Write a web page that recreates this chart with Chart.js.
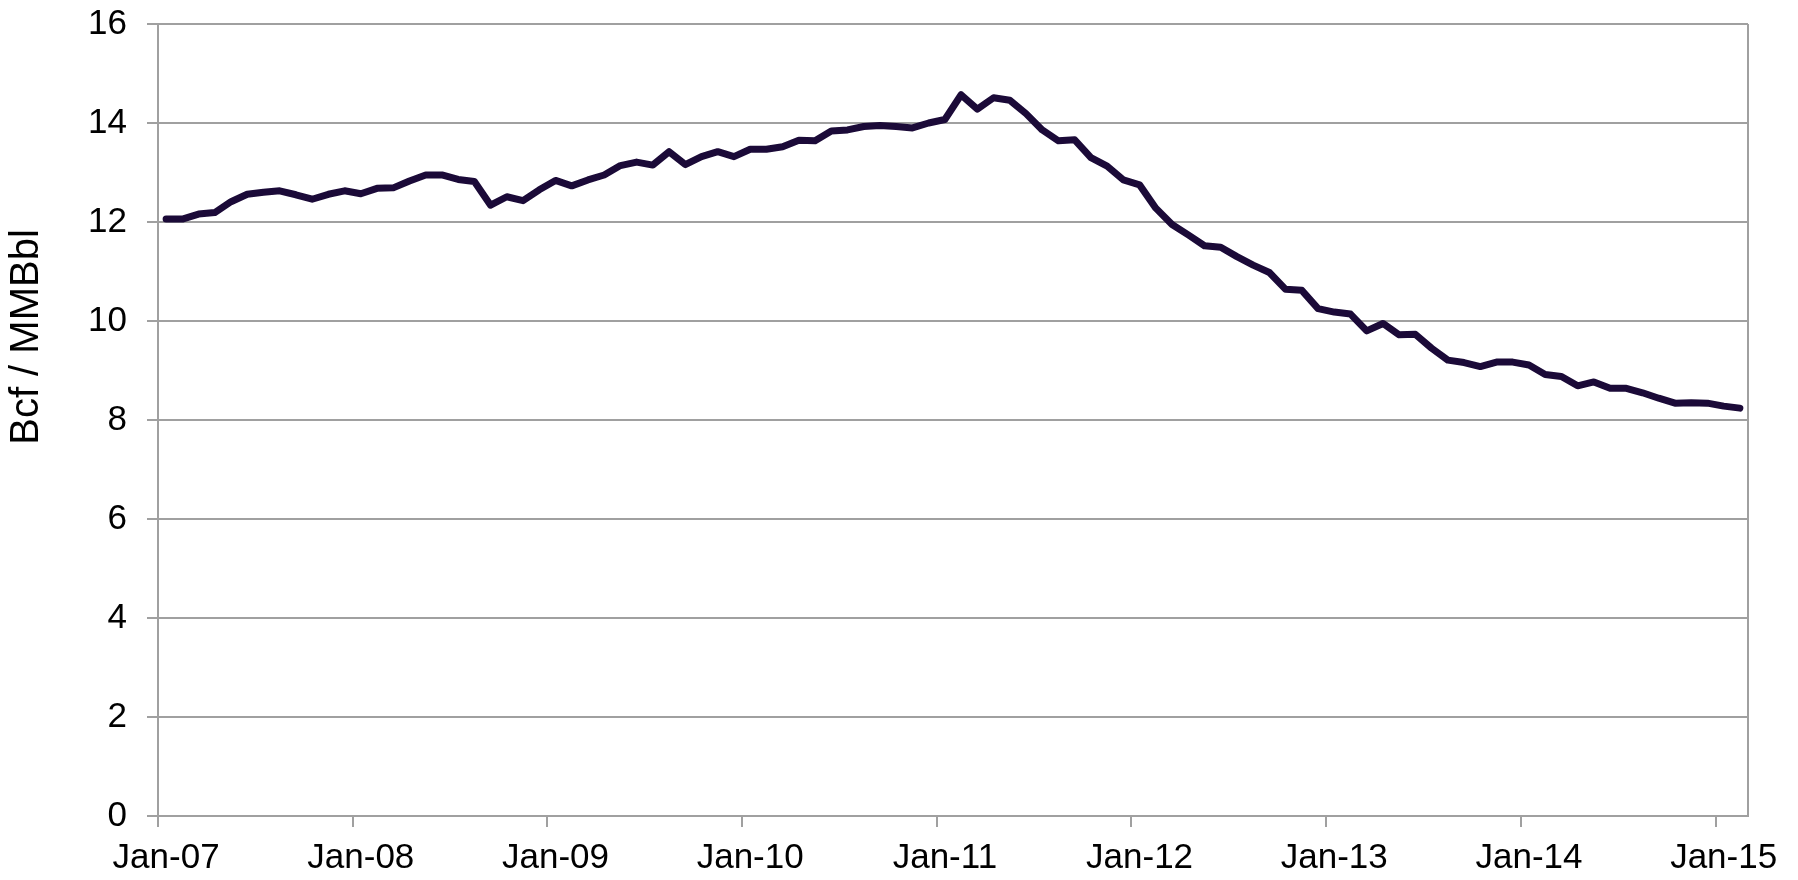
<!DOCTYPE html>
<html>
<head>
<meta charset="utf-8">
<script src="https://cdn.jsdelivr.net/npm/chart.js@4.4.0/dist/chart.umd.min.js"></script>
<style>
    html, body { margin: 0; padding: 0; background: #ffffff; }
    #ratioChart { display: block; }
</style>
</head>
<body>
<canvas id="ratioChart" width="1798" height="880"></canvas>
<script>
// monthly series, Jan-07 .. Feb-15
const years = ['07', '08', '09', '10', '11', '12', '13', '14', '15'];
const monthNames = ['Jan', 'Feb', 'Mar', 'Apr', 'May', 'Jun', 'Jul', 'Aug', 'Sep', 'Oct', 'Nov', 'Dec'];
const monthCount = 98;

const ratio = [
    12.06, 12.06, 12.16, 12.19, 12.41, 12.56, 12.60, 12.63, 12.55, 12.46, 12.56, 12.63,
    12.57, 12.68, 12.69, 12.83, 12.95, 12.95, 12.86, 12.82, 12.34, 12.51, 12.43, 12.65,
    12.84, 12.73, 12.85, 12.95, 13.14, 13.21, 13.15, 13.42, 13.16, 13.32, 13.42, 13.32,
    13.47, 13.47, 13.52, 13.65, 13.64, 13.84, 13.86, 13.93, 13.95, 13.93, 13.90, 14.00,
    14.07, 14.57, 14.28, 14.51, 14.46, 14.19, 13.86, 13.64, 13.66, 13.30, 13.13, 12.85,
    12.75, 12.28, 11.95, 11.74, 11.52, 11.49, 11.30, 11.13, 10.98, 10.64, 10.62, 10.25,
    10.18, 10.14, 9.80, 9.95, 9.72, 9.73, 9.45, 9.21, 9.16, 9.08, 9.17, 9.17,
    9.11, 8.92, 8.88, 8.69, 8.77, 8.64, 8.64, 8.55, 8.44, 8.34, 8.35, 8.34,
    8.28, 8.24
];

const yTicks = [0, 2, 4, 6, 8, 10, 12, 14, 16];
const yTitle = 'Bcf / MMBbl';

const labels = [];
for (let i = 0; i < monthCount; i++) {
    labels.push(monthNames[i % 12] + '-' + years[Math.floor(i / 12)]);
}

const axisGray = '#a0a0a0';
const fontFamily = '"Liberation Sans", Arial, sans-serif';
const fontSize = 35;

// y title and the right-hand frame line
const framePlugin = {
    id: 'framePlugin',
    afterDraw(chart) {
        const ctx = chart.ctx;
        const area = chart.chartArea;
        ctx.save();
        ctx.strokeStyle = axisGray;
        ctx.lineWidth = 2;
        ctx.beginPath();
        ctx.moveTo(area.right, area.top);
        ctx.lineTo(area.right, area.bottom);
        ctx.stroke();

        ctx.translate(27, 337);
        ctx.rotate(-Math.PI / 2);
        ctx.fillStyle = '#000000';
        ctx.font = '40px ' + fontFamily;
        ctx.textAlign = 'center';
        ctx.textBaseline = 'middle';
        ctx.fillText(yTitle, 0, 0);
        ctx.restore();
    }
};

const config = {
    type: 'line',
    data: {
        labels: labels,
        datasets: [{
            label: 'Ratio',
            data: ratio,
            borderColor: '#1b0a38',
            borderWidth: 7,
            borderCapStyle: 'round',
            borderJoinStyle: 'round',
            pointRadius: 0,
            tension: 0,
            fill: false
        }]
    },
    options: {
        responsive: false,
        animation: false,
        layout: {
            padding: { top: 24, right: 50, left: 0, bottom: 0 }
        },
        plugins: {
            legend: { display: false },
            tooltip: { enabled: false }
        },
        scales: {
            x: {
                type: 'category',
                offset: true,
                afterFit(scale) { scale.height = 64; },
                grid: {
                    offset: true,
                    drawOnChartArea: false,
                    drawTicks: true,
                    tickLength: 11,
                    lineWidth: 2,
                    color: (c) => (c.index % 12 === 0 ? axisGray : 'rgba(0,0,0,0)')
                },
                border: { display: true, color: axisGray, width: 2 },
                ticks: {
                    autoSkip: false,
                    maxRotation: 0,
                    padding: 10,
                    color: '#000000',
                    font: { family: fontFamily, size: fontSize },
                    callback: function (val, idx) {
                        return idx % 12 === 0 ? this.getLabelForValue(val) : '';
                    }
                }
            },
            y: {
                min: 0,
                max: 16,
                afterFit(scale) { scale.width = 158; },
                afterBuildTicks(scale) {
                    scale.ticks = yTicks.map(v => ({ value: v }));
                },
                grid: {
                    color: axisGray,
                    lineWidth: 2,
                    tickLength: 11,
                    drawTicks: true
                },
                border: { display: true, color: axisGray, width: 2 },
                ticks: {
                    padding: 20,
                    color: '#000000',
                    // small lineHeight keeps the top label from pushing the plot down
                    font: { family: fontFamily, size: fontSize, lineHeight: 0.1 }
                }
            }
        }
    },
    plugins: [framePlugin]
};

var ratioChart = new Chart(document.getElementById('ratioChart'), config);
</script>
</body>
</html>
